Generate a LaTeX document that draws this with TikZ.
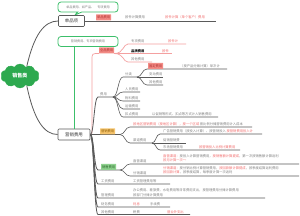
\documentclass[tikz,border=0pt]{standalone}
\usepackage{fontspec}
\setmainfont{Noto Sans CJK SC}
\usetikzlibrary{shapes.symbols,shapes.callouts}
\definecolor{gline}{HTML}{5A5A5A}
\definecolor{gtext}{HTML}{808080}
\definecolor{rtext}{HTML}{F26D6D}
\definecolor{rfill}{HTML}{F28B85}
\definecolor{pline}{HTML}{F4A0A0}
\definecolor{ofill}{HTML}{F7C56E}
\definecolor{gfill}{HTML}{8FD18F}
\definecolor{cloudg}{HTML}{2DA94F}
\definecolor{callg}{HTML}{3CBF6A}
\definecolor{tagrt}{HTML}{B03030}
\definecolor{tagot}{HTML}{8A5A00}
\definecolor{taggt}{HTML}{2A6A2A}
\begin{document}
\begin{tikzpicture}[x=1pt,y=-1pt,
  gl/.style={draw=gline,line width=0.8pt},
  tl/.style={draw=gline,line width=0.6pt},
  pl/.style={draw=pline,line width=0.7pt},
  tx/.style={font=\fontsize{3.3}{4}\selectfont,text=gtext,inner sep=0pt,anchor=base west},
  rt/.style={tx,text=rtext},
  tagbase/.style={font=\fontsize{3.3}{4}\selectfont,inner sep=0.8pt,minimum height=6,anchor=south west,rounded corners=0.3pt},
  tagr/.style={tagbase,fill=rfill,text=tagrt},
  tago/.style={tagbase,fill=ofill,text=tagot},
  tagg/.style={tagbase,fill=gfill,text=taggt},
  mainbox/.style={draw=gline,line width=0.7pt,rounded corners=1pt,fill=white,font=\fontsize{4.4}{5}\selectfont,text=black!80,minimum height=11,inner sep=1pt},
  callbox/.style={rectangle callout,draw=callg,line width=0.8pt,rounded corners=3pt,fill=white,font=\fontsize{3.1}{4}\selectfont,text=gtext,minimum width=60,minimum height=10,inner sep=1pt}
]
\fill[white] (0,0) rectangle (300,215);
\useasboundingbox (0,0) rectangle (300,215);

% root
\node[cloud,cloud puffs=10,cloud puff arc=120,aspect=1.6,fill=cloudg,draw=cloudg,minimum width=38,minimum height=24,inner sep=0,font=\fontsize{5}{6}\selectfont\bfseries,text=white] (root) at (20,76) {销售类};

% main boxes
\node[mainbox,minimum width=26] (n1) at (71.5,21) {单品项};
\node[mainbox,minimum width=32] (n2) at (74,134.5) {营销费用};

% callouts
\node[callbox,callout absolute pointer={(74,15.5)},callout pointer width=4pt] (c1) at (88,7) {单品费用、如产品、\quad 专项费用};
\node[callbox,rectangle] (c2) at (88,41.5) {营销费用、专项营销费用};
\draw[draw=callg,line width=1pt] (c2.south -| n2.north) -- (n2.north);

% root connectors
\draw[draw=gline,line width=0.8pt] (root.55) .. controls (34,35) and (44,21) .. (n1.west);
\draw[draw=gline,line width=0.8pt] (root.-55) .. controls (34,120) and (44,134.5) .. (n2.west);

% branch of n1
\coordinate (e1) at (216,21);
\draw[gl] (n1.east) -- (e1);
\node[tagr] (t1) at (96,20.6) {单品费用};
\node[tx] (t1a) at (125,18.8) {按件计算费用};
\node[rt] (t1b) at (165,18.8) {按件计算（单个客户）费用};

% pink subtree
\draw[pl] (n2.east) .. controls (92,134.5) .. (92,128) -- (92,60) .. controls (92,53.5) .. (99,53.5);
\node[tagr] (t2) at (99,53.5) {全品费用};
\draw[pl] (t2.south east) .. controls (124,53.5) and (123,44) .. (128,44) -- (186,44);
\draw[pl] (t2.south east) -- (172,53.5);
\draw[pl] (t2.south east) .. controls (124,53.5) and (123,62) .. (128,62) -- (152,62);
\node[tx] (p1) at (131,42.8) {专项费用};
\node[rt] (p1r) at (168,42.8) {按件计};
\node[tx,text=black,font=\fontsize{3.3}{4}\selectfont\bfseries] (p2) at (131,52.3) {品牌费用};
\node[rt] (p2r) at (162,52.3) {按件};
\node[tx] (p3) at (131,60.8) {其他费用};

% trunk A
\draw[gl] (n2.east) .. controls (94,134.5) and (94,97) .. (98,97) -- (113,97) coordinate (a1);
\node[tx] (fy) at (100,95.8) {费用};
\draw[tl] (a1) .. controls (118,97) and (118,77) .. (123,77) -- (137,77) coordinate (b1);
\node[tx] (fl) at (125,75.8) {分类};
\draw[tl] (b1) .. controls (142,77) and (142,69) .. (147,69) -- (227,69);
\node[tagr] (t3) at (148,69) {固定费用};
\node[tx] (t3a) at (180,67.8) {（按产品分摊计算）单次计};
\draw[tl] (b1) -- (163,77);
\node[tx] (bd) at (149,75.8) {变动费用};
\draw[tl] (b1) .. controls (142,77) and (142,85) .. (147,85) -- (163,85);
\node[tx] (qt) at (149,83.8) {其他费用};
\draw[tl] (a1) .. controls (118,97) and (118,92) .. (123,92) -- (140,92);
\node[tx] (ry) at (125,90.8) {人员费用};
\draw[tl] (a1) .. controls (118,97) and (118,101) .. (123,101) -- (140,101);
\node[tx] (wl) at (125,99.8) {物料费用};
\draw[tl] (a1) .. controls (118,97) and (118,109) .. (123,109) -- (140,109);
\node[tx] (ys) at (125,107.8) {运输费用};
\draw[tl] (a1) .. controls (118,97) and (118,117) .. (123,117) -- (218,117);
\node[tx] (kd) at (125,115.8) {扣点费用};
\node[tx] (kda) at (152,115.8) {以促销等形式、扣点等方式计入销售费用};

% trunk B
\draw[gl] (n2.east) -- (120,134.5) coordinate (o1);
\node[tago] (t4) at (100,134.5) {营销费用};
\draw[tl] (o1) .. controls (125,134.5) and (125,127) .. (130,127) -- (252,127);
\node[tx] (o1a) at (133,125.8) {\textcolor{rtext}{按地区营销费用（按地区计算），按一个区域} 按比例分摊营销费用计入成本};
\draw[tl] (o1) .. controls (125,134.5) and (125,143) .. (130,143) -- (152,143) coordinate (o2);
\node[tx] (qd) at (133,141.8) {渠道费用};
\draw[tl] (o2) .. controls (156,143) and (156,134) .. (160,134) -- (262,134);
\node[tx] (o2a) at (163,132.8) {广告营销费用（按投入计算）、按营销投入 \textcolor{rtext}{按营销费用投入计}};
\draw[tl] (o2) -- (186,143);
\node[tx] (o2b) at (163,141.8) {促销营销费};
\draw[tl] (o2) .. controls (156,143) and (156,150) .. (160,150) -- (240,150);
\node[tx] (o2c) at (163,148.8) {市场营销费用\hspace{16pt}\textcolor{rtext}{按营销投入比例计算费用}};

% trunk C
\draw[gl] (n2.east) .. controls (94,134.5) and (94,170) .. (98,170) -- (120,170) coordinate (g1);
\node[tagg] (t5) at (101,170) {销售费用};
\draw[tl] (g1) .. controls (125,170) and (125,164) .. (130,164) -- (299,164);
\node[tx] (zy) at (133,162.8) {直营渠道};
\node[tx] (zya) at (163,157) {\textcolor{rtext}{直营渠道：}按投入计算营销费用，\textcolor{rtext}{按销售额计算提成}，第一次按销售额计算返利};
\node[rt] (zyb) at (163,161.2) {按月计算一次～};
\draw[tl] (g1) .. controls (125,170) and (125,176) .. (130,176) -- (299,176);
\node[tx] (fx) at (133,174.8) {分销渠道};
\node[tx] (fxa) at (163,169) {\textcolor{rtext}{分销渠道：}按分销比例计算营销费用，\textcolor{rtext}{按回款额计算提成}，按季度结算返利费用};
\node[tx] (fxb) at (163,173.4) {\textcolor{rtext}{按回款计算}，按季度结算，每季度计算一次返利};

% trunk D
\draw[gl] (n2.east) .. controls (94,134.5) and (94,184) .. (98,184) -- (170,184);
\node[tx] (gz) at (101,182.8) {工资费用};
\node[tx] (gza) at (133,182.8) {工资管理费用等};

% trunk E
\draw[gl] (n2.east) .. controls (94,134.5) and (94,198) .. (98,198) -- (265,198);
\node[tx] (gl1) at (101,196.8) {管理费用};
\node[tx] (gla) at (133,191) {办公费用、差旅费、水电费用等日常费用支出，按管理费用分摊计算费用};
\node[tx] (glb) at (133,196) {按部门分摊计算费用};

% trunk F
\draw[gl] (n2.east) .. controls (94,134.5) and (94,207) .. (98,207) -- (170,207);
\node[tx] (cw) at (101,205.8) {财务费用};
\node[rt] (cwa) at (133,205.8) {利息};
\node[tx] (cwb) at (150,205.8) {手续费};

% trunk G
\draw[gl] (n2.east) .. controls (94,134.5) and (94,214.5) .. (98,214.5) -- (190,214.5);
\node[tx] (qt2) at (101,213.3) {其他费用};
\node[tx] (qta) at (133,213.3) {税费};
\node[rt] (qtb) at (167,213.3) {营业外支出};
\end{tikzpicture}
\end{document}
